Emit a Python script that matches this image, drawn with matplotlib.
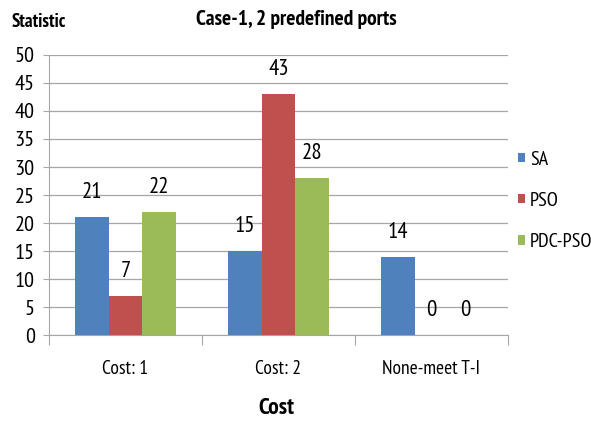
import numpy as np
import matplotlib.pyplot as plt
from matplotlib import font_manager

# narrow humanist sans, falling back to Calibri-like Carlito
installed = {f.name for f in font_manager.fontManager.ttflist}
face = next((n for n in ["PT Sans Narrow", "Roboto Condensed", "Archivo Narrow", "Carlito"]
             if n in installed), "DejaVu Sans")
plt.rcParams["font.family"] = [face, "DejaVu Sans"]

categories = ["Cost: 1", "Cost: 2", "None-meet T-I"]
methods = ["SA", "PSO", "PDC-PSO"]
sa = [21, 15, 14]
pso = [7, 43, 0]
pdc_pso = [22, 28, 0]
colors = ["#4F81BD", "#C0504D", "#9BBB59"]
GRID = "#A6A6A6"

fig = plt.figure(figsize=(5.91, 4.23), dpi=100)
ax = fig.add_axes([0.0829, 0.208, 0.7766, 0.662])

x = np.arange(len(categories))
w = 0.218
for i, (vals, name, c) in enumerate(zip([sa, pso, pdc_pso], methods, colors)):
    pos = x + (i - 1) * w
    ax.bar(pos, vals, w, color=c, label=name, zorder=3)
    for p, v in zip(pos, vals):
        ax.text(p, v + 2.5, str(v), ha="center", va="bottom", fontsize=16.5)

ax.set_xlim(-0.5, 2.5)
ax.set_ylim(0, 50)
ax.set_yticks(np.arange(0, 51, 5))
ax.yaxis.grid(True, color=GRID, lw=0.9, zorder=0)
ax.tick_params(axis="y", labelsize=16, length=4.3, color=GRID, pad=6)

# category labels centred, tick marks on the boundaries
ax.set_xticks([-0.5, 0.5, 1.5, 2.5])
ax.set_xticklabels([])
ax.tick_params(axis="x", length=7.2, color=GRID)
for xi, lab in zip(x, categories):
    ax.text(xi, -6.1, lab, ha="center", va="center", fontsize=14)

for s in ["top", "right"]:
    ax.spines[s].set_visible(False)
for s in ["left", "bottom"]:
    ax.spines[s].set_color(GRID)

fig.text(0.501, 0.955, "Case-1, 2 predefined ports", ha="center", va="center",
         fontsize=15.5, fontweight="bold")
fig.text(0.020, 0.947, "Statistic", ha="left", va="center",
         fontsize=13.5, fontweight="bold")
fig.text(0.467, 0.035, "Cost", ha="center", va="center",
         fontsize=17, fontweight="bold")

ax.legend(loc="center left", bbox_to_anchor=(0.876, 0.525),
          bbox_transform=fig.transFigure, frameon=False,
          borderpad=0, borderaxespad=0,
          fontsize=14.5, handlelength=0.35, handleheight=0.35,
          handletextpad=0.25, labelspacing=1.15)

fig.savefig("out.png", dpi=100)
